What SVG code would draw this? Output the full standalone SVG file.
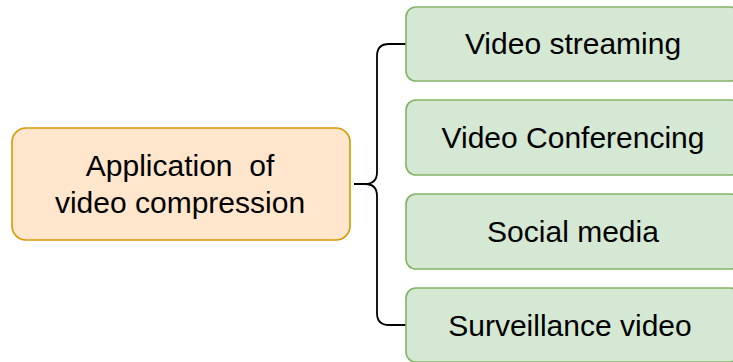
<svg xmlns="http://www.w3.org/2000/svg" width="733" height="362" viewBox="0 0 733 362">
  <style>
    .root { fill: #ffe6cc; stroke: #d79b00; stroke-width: 1.6; }
    .leaf { fill: #d5e8d4; stroke: #82b366; stroke-width: 1.6; }
    .label { font-family: "Liberation Sans", Arial, sans-serif; font-size: 30px; fill: #000000; text-anchor: middle; white-space: pre; }
    .brace { fill: none; stroke: #000000; stroke-width: 1.8; }
  </style>
  <rect width="733" height="362" fill="#ffffff"/>

  <g id="connectors">
    <path class="brace" d="M406,44 H389 Q377,44 377,56 V172 Q377,184 365,184 H354 M365,184 Q377,184 377,196 V313 Q377,325 389,325 H406"/>
  </g>

  <g id="node-root">
    <rect class="root" x="12" y="128" width="338" height="112" rx="14" ry="14"/>
    <text class="label" x="180" y="176" xml:space="preserve">Application  of</text>
    <text class="label" x="180" y="213">video compression</text>
  </g>

  <g id="node-streaming">
    <rect class="leaf" x="406" y="7" width="334" height="74" rx="10" ry="10"/>
    <text class="label" x="573" y="54">Video streaming</text>
  </g>

  <g id="node-conferencing">
    <rect class="leaf" x="406" y="100" width="334" height="75" rx="10" ry="10"/>
    <text class="label" x="573" y="148">Video Conferencing</text>
  </g>

  <g id="node-social">
    <rect class="leaf" x="406" y="194" width="334" height="75" rx="10" ry="10"/>
    <text class="label" x="573" y="242">Social media</text>
  </g>

  <g id="node-surveillance">
    <rect class="leaf" x="406" y="288" width="334" height="74" rx="10" ry="10"/>
    <text class="label" x="570" y="336">Surveillance video</text>
  </g>
</svg>
